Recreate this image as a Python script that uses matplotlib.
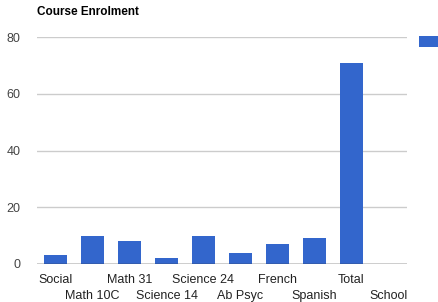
import matplotlib.pyplot as plt

courses = ["Social", "Math 10C", "Math 31", "Science 14", "Science 24",
           "Ab Psyc", "French", "Spanish", "Total", "School"]
enrolment = [3, 10, 8, 2, 10, 4, 7, 9, 71, 0]
y_ticks = [0, 20, 40, 60, 80]

plt.rcParams["font.family"] = ["Liberation Sans", "DejaVu Sans"]

fig = plt.figure(figsize=(4.38, 3.02), dpi=100)
ax = fig.add_axes([37 / 438, 38 / 302, 370 / 438, 227 / 302])

x = list(range(len(courses)))
bars = ax.bar(x, enrolment, width=0.6, color="#3366cc", zorder=2)

ax.set_xlim(-0.5, len(courses) - 0.5)
ax.set_ylim(0, 80)
ax.set_yticks(y_ticks)
ax.set_yticklabels([str(v) for v in y_ticks])
ax.grid(axis="y", color="#cccccc", lw=1, zorder=0)
ax.axhline(0, color="#333333", lw=1, zorder=3)

# alternate labels on two rows: even ones as major ticks, odd as minor
ax.set_xticks(x[0::2])
ax.set_xticklabels(courses[0::2])
ax.set_xticks(x[1::2], minor=True)
ax.set_xticklabels(courses[1::2], minor=True)
ax.tick_params(axis="x", which="major", length=0, pad=7.3,
               labelsize=9, labelcolor="#222222")
ax.tick_params(axis="x", which="minor", length=0, pad=18.8,
               labelsize=9, labelcolor="#222222")
ax.tick_params(axis="y", length=0, pad=12, labelsize=9, labelcolor="#444444")
for s in ax.spines.values():
    s.set_visible(False)

fig.text(37 / 438, 1 - 12 / 302, "Course Enrolment", fontsize=8.5,
         fontweight="bold", color="#000000", va="center", ha="left")

# legend swatch only; its text runs off the right edge in the original
fig.legend(handles=[bars], labels=[""], loc="upper left",
           bbox_to_anchor=(419 / 438, 1 - 36 / 302), frameon=False,
           handlelength=1.6, handleheight=1.0, fontsize=9,
           borderaxespad=0, borderpad=0, handletextpad=0)

fig.savefig("out.png", dpi=100)
